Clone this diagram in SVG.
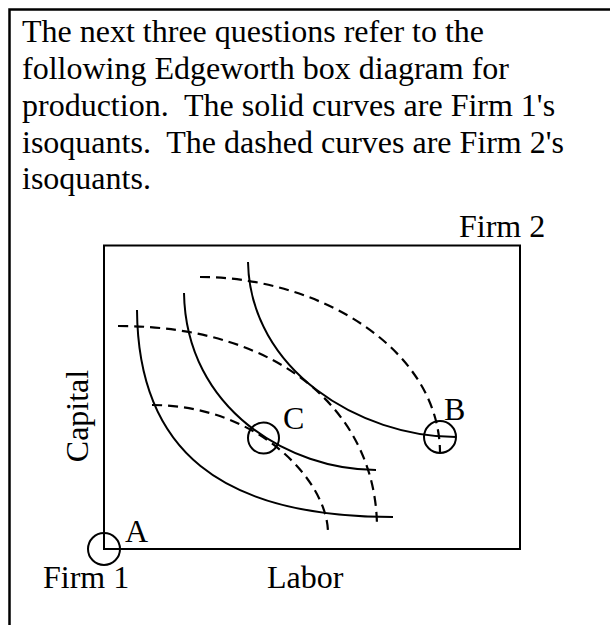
<svg xmlns="http://www.w3.org/2000/svg" width="610" height="625" viewBox="0 0 610 625">
<style>
text{font-family:"Liberation Serif","Times New Roman",serif;font-size:32px;fill:#000;white-space:pre}
.ln{fill:none;stroke:#000;stroke-width:2}
.solid{fill:none;stroke:#000;stroke-width:2}
.dash{fill:none;stroke:#000;stroke-width:2.2;stroke-dasharray:10 6}
</style>
<rect x="0" y="0" width="610" height="625" fill="#fff"/>
<rect x="9.5" y="9.5" width="640" height="660" fill="none" stroke="#000" stroke-width="2.5"/>
<g id="question">
<text x="22" y="42">The next three questions refer to the</text>
<text x="22" y="79">following Edgeworth box diagram for</text>
<text x="22" y="116" xml:space="preserve">production.  The solid curves are Firm 1's</text>
<text x="22" y="153" xml:space="preserve">isoquants.  The dashed curves are Firm 2's</text>
<text x="22" y="189">isoquants.</text>
</g>
<g id="box">
<rect class="ln" x="104" y="245.5" width="416" height="303.5"/>
</g>
<g id="labels">
<text x="459" y="237">Firm 2</text>
<text x="43" y="588">Firm 1</text>
<text x="267" y="588">Labor</text>
<text transform="translate(88,416) rotate(-90)" text-anchor="middle">Capital</text>
</g>
<g id="connectors">
<path class="solid" d="M137,310 C138,450 220,517 393,517"/>
<path class="solid" d="M184,293 C186,410 290,470 376,470"/>
<path class="solid" d="M248,262 C250,370 360,437 456,437"/>
<path class="dash" d="M200,277 C320,277 440,350 440,453"/>
<path class="dash" d="M118,326 C285,326 377,416 377,528"/>
<path class="dash" d="M152,405 C259,405 328,482 328,533"/>
</g>
<g id="pointA">
<circle class="ln" cx="104" cy="549" r="16"/>
<text x="125" y="542">A</text>
</g>
<g id="pointC">
<circle class="ln" cx="263.5" cy="438" r="15.5"/>
<text x="283" y="429">C</text>
</g>
<g id="pointB">
<circle class="ln" cx="440" cy="437" r="16"/>
<text x="444" y="420">B</text>
</g>
</svg>
